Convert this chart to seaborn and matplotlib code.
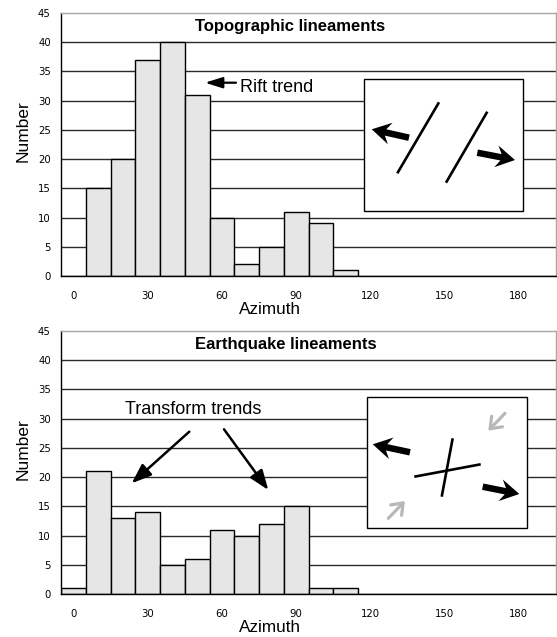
import numpy as np
import pandas as pd
import matplotlib
matplotlib.use("Agg")
import matplotlib.pyplot as plt
import seaborn as sns
from matplotlib.patches import FancyArrow, FancyArrowPatch, Rectangle

# ---- data ----
azimuth_bins = ["0", "10", "20", "30", "40", "50", "60", "70", "80", "90",
                "100", "110", "120", "130", "140", "150", "160", "170", "180", "190"]
topo_counts = [0, 15, 20, 37, 40, 31, 10, 2, 5, 11, 9, 1, 0, 0, 0, 0, 0, 0, 0, 0]
quake_counts = [1, 21, 13, 14, 5, 6, 11, 10, 12, 15, 1, 1, 0, 0, 0, 0, 0, 0, 0, 0]
xtick_labels = ["0", "30", "60", "90", "120", "150", "180"]
ytick_values = [0, 5, 10, 15, 20, 25, 30, 35, 40, 45]
titles = ["Topographic lineaments", "Earthquake lineaments"]

sns.set_style("white")
plt.rcParams["font.family"] = ["Liberation Sans", "DejaVu Sans"]
for k in ["text.color", "axes.labelcolor", "xtick.color", "ytick.color"]:
    plt.rcParams[k] = "black"

W, H = 557, 637
fig = plt.figure(figsize=(W / 100, H / 100), dpi=100)


def px_axes(x0, y0, x1, y1):
    return fig.add_axes([x0 / W, (H - y1) / H, (x1 - x0) / W, (y1 - y0) / H])


ax_top = px_axes(61, 13, 556, 276)
ax_bot = px_axes(61, 331, 556, 594)


def draw(ax, counts, title):
    df = pd.DataFrame({"azimuth": azimuth_bins, "count": counts})
    sns.barplot(data=df, x="azimuth", y="count", order=azimuth_bins,
                color="#e6e6e6", saturation=1, edgecolor="black",
                linewidth=1, width=1.0, ax=ax, zorder=2)
    ax.set_xlim(-0.5, len(azimuth_bins) - 0.5)
    ax.set_ylim(ytick_values[0], ytick_values[-1])
    for v in ytick_values[1:-1]:
        ax.axhline(v, color="#2a2a2a", lw=1, zorder=1)
    ax.set_yticks(ytick_values)
    ax.set_yticklabels([str(v) for v in ytick_values], family="DejaVu Sans", fontsize=7.3)
    ax.set_xticks(range(0, len(azimuth_bins), 3))
    ax.set_xticklabels(xtick_labels, family="DejaVu Sans", fontsize=7.3)
    ax.set_xticks(np.arange(-0.5, len(azimuth_bins), 1), minor=True)
    ax.tick_params(axis="x", which="major", length=0, pad=11)
    ax.tick_params(axis="x", which="minor", length=4, width=1, direction="out", color="black")
    ax.tick_params(axis="y", length=3, width=1, direction="out", pad=4.3, color="black")
    for s in ["left", "bottom"]:
        ax.spines[s].set_color("black")
        ax.spines[s].set_linewidth(1)
    for s in ["top", "right"]:
        ax.spines[s].set_color("#a8a8a8")
        ax.spines[s].set_linewidth(1)
    ax.set_xlabel("Azimuth", fontsize=12.3)
    ax.set_ylabel("Number", fontsize=12.5)
    ax.xaxis.set_label_coords(0.423, -0.100)
    ax.yaxis.set_label_coords(-0.062, 0.551)
    ax.text(0.2707, 0.947, title, transform=ax.transAxes, ha="left", va="center",
            fontsize=12, fontweight="bold")


draw(ax_top, topo_counts, titles[0])
draw(ax_bot, quake_counts, titles[1])

# ---- overlay for sketches and annotations (figure pixel coordinates) ----
ov = fig.add_axes([0, 0, 1, 1], zorder=10)
ov.set_xlim(0, W)
ov.set_ylim(H, 0)
ov.axis("off")

# inset boxes
ov.add_patch(Rectangle((364.3, 79.3), 159, 131.7, facecolor="white", edgecolor="black", lw=1))
ov.add_patch(Rectangle((367.3, 396.7), 159.4, 131.6, facecolor="white", edgecolor="black", lw=1))


def fat_arrow(x0, y0, x1, y1):
    ov.add_patch(FancyArrow(x0, y0, x1 - x0, y1 - y0, width=6.5, head_width=22,
                            head_length=19, length_includes_head=True, overhang=0.25,
                            color="black", lw=0))


def seg(x0, y0, x1, y1):
    ov.plot([x0, x1], [y0, y1], color="black", lw=1.9, solid_capstyle="butt")


# top sketch: rift
seg(397.3, 173.3, 439, 102.3)
seg(446, 182.7, 487.3, 111.7)
fat_arrow(409, 137.7, 371.7, 129.3)
fat_arrow(477.3, 152.7, 515, 160)

# bottom sketch: transform
seg(441.7, 496.7, 452.7, 438.3)
seg(414.3, 476.7, 480.7, 464.3)
fat_arrow(410, 452.3, 372.7, 444.3)
fat_arrow(482.7, 486.7, 519.3, 494)
for (a, b) in [((505, 413.3), (488.3, 430.7)), ((388.3, 518.3), (405, 501))]:
    ov.add_patch(FancyArrowPatch(a, b, arrowstyle="->,head_length=0.6,head_width=0.45",
                                 mutation_scale=12, lw=2.3, color="#b8b8b8",
                                 shrinkA=0, shrinkB=0))

# annotations
ov.add_patch(FancyArrowPatch((236, 82.7), (205, 82.7),
                             arrowstyle="-|>,head_length=1.05,head_width=0.33",
                             mutation_scale=10, lw=1.6, color="black", shrinkA=0, shrinkB=0))
ov.text(240, 87, "Rift trend", fontsize=13, ha="left", va="center")

ov.text(125, 409, "Transform trends", fontsize=13, ha="left", va="center")
for (a, b) in [((189.3, 431.7), (131.7, 483.3)), ((224, 429.3), (268.3, 490))]:
    ov.add_patch(FancyArrowPatch(a, b, arrowstyle="-|>,head_length=1.2,head_width=0.45",
                                 mutation_scale=10, lw=1.8, color="black",
                                 shrinkA=0, shrinkB=0))

fig.savefig("out.png", dpi=100)
